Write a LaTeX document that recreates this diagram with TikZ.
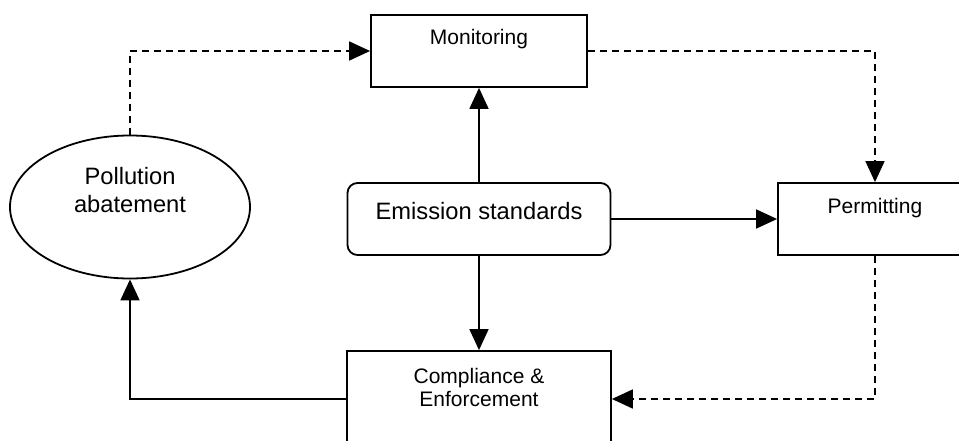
\documentclass[tikz,border=0pt]{standalone}
\usepackage{fontspec}
\setmainfont{Liberation Sans}
\usetikzlibrary{arrows.meta,shapes.geometric}

\begin{document}
\begin{tikzpicture}[x=1pt,y=-1pt,line width=1.8pt,
		>={Triangle[length=21pt,width=19pt]},
		box/.style={draw,rectangle,inner sep=0pt,minimum height=72pt,font=\fontsize{21}{23.5}\selectfont},
		stdbox/.style={box,rounded corners=10pt,font=\fontsize{23.7}{28}\selectfont},
		oval/.style={draw,ellipse,inner sep=0pt,minimum width=240pt,minimum height=143pt,font=\fontsize{23.7}{28}\selectfont},
		flow/.style={->},
		plan/.style={->,dash pattern=on 7pt off 5pt}]
		\useasboundingbox (0,0) rectangle (959,441);
		\clip (0,0) rectangle (959,441); % 右边和下边被截掉
		\node[box,minimum width=216pt,text height=15pt,text depth=27pt] (mon) at (479,51) {Monitoring};
		\node[stdbox,minimum width=263pt,text height=17pt,text depth=17pt] (emis) at (479,219) {Emission standards};
		\node[box,minimum width=194pt,text height=15pt,text depth=25pt] (perm) at (875,219) {Permitting};
		\node[box,minimum width=264pt,minimum height=96pt,text height=15pt,text depth=47pt] (comp) at (479,399)
			{\begin{tabular}[t]{@{}c@{}}Compliance \&\\Enforcement\end{tabular}};
		\node[oval,text height=17pt,text depth=61pt] (abat) at (130,207)
			{\begin{tabular}[t]{@{}c@{}}Pollution\\abatement\end{tabular}};
		% 实线
		\draw[flow] (emis) -- (mon);
		\draw[flow] (emis) -- (perm);
		\draw[flow] (emis) -- (comp);
		\draw[flow] (comp.west) -| (abat.south);
		% 虚线
		\draw[plan] (abat.north) |- (mon.west);
		\draw[plan] (mon.east) -| (perm.north);
		\draw[plan] (perm.south) |- (comp.east);
\end{tikzpicture}
\end{document}
